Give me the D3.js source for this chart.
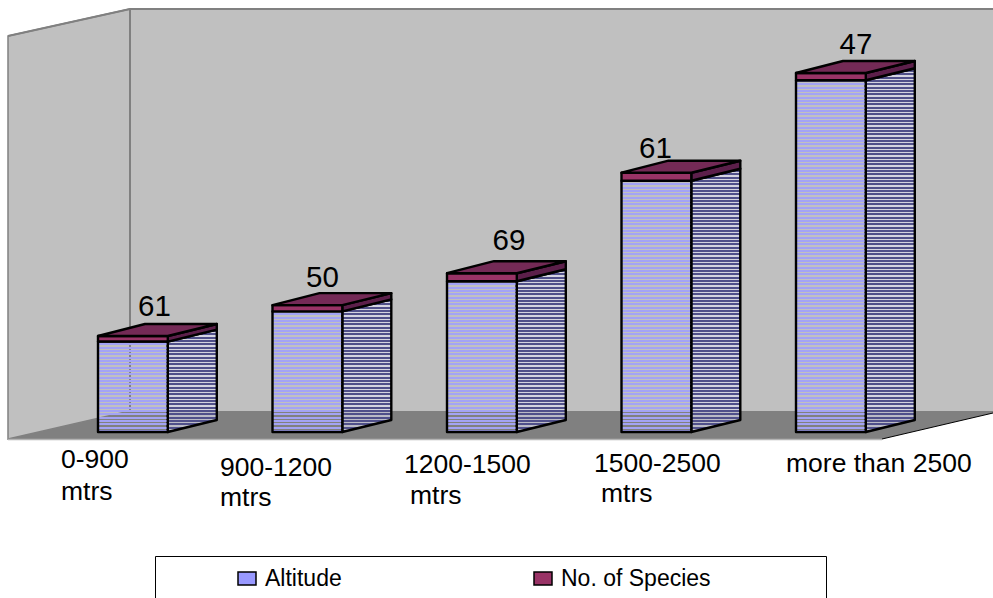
<!DOCTYPE html>
<html lang="en">
<head>
<meta charset="utf-8">
<title>Altitude and species</title>
<script src="https://cdn.jsdelivr.net/npm/d3@7"></script>
<style>
  html, body { margin: 0; background: #fff; }
  svg { display: block; }
  text { font-family: "Liberation Sans", Arial, sans-serif; fill: #000; }
</style>
</head>
<body>
<svg id="chart" width="993" height="598"></svg>
<script>
// values
var categories = ["0-900", "900-1200", "1200-1500", "1500-2500", "more than 2500"];
var categoryLines = [["0-900", "mtrs"], ["900-1200", "mtrs"], ["1200-1500", "mtrs"], ["1500-2500", "mtrs"], ["more than 2500"]];
var altitude = [900, 1200, 1500, 2500, 3500];
// the caps are not drawn to the printed labels in the original, so heights and labels are separate
var speciesHeight = [55, 62, 80, 80, 72];
var speciesLabels = [61, 50, 69, 61, 47];
var legendNames = ["Altitude", "No. of Species"];

var svg = d3.select("#chart");
var width = 993, height = 598;
var baseY = 432;
var depthX = 49, depthXLeft = 47, depthY = 12;

var x = d3.scaleBand().domain(categories).range([45.65, 918.15]).paddingInner(0.6).paddingOuter(0.3);
var y = d3.scaleLinear().domain([0, 4000]).range([baseY, 30]);

var rows = categories.map(function (c, i) {
  return { cat: c, altitude: altitude[i], species: speciesHeight[i] };
});
var stacked = d3.stack().keys(["altitude", "species"])(rows);

var line = d3.line();
var poly = function (pts) { return line(pts) + "Z"; };

// stripes, see-through like the original hatch. 3 lines in 10px keeps them crisp
var defs = svg.append("defs");
function stripes(id, bg, fg, h) {
  var p = defs.append("pattern").attr("id", id).attr("patternUnits", "userSpaceOnUse")
    .attr("width", 8).attr("height", 10);
  p.append("rect").attr("width", 8).attr("height", 10).attr("fill", bg);
  [0, 3, 7].forEach(function (s) {
    p.append("rect").attr("y", s).attr("width", 8).attr("height", h).attr("fill", fg);
  });
}
stripes("frontHatch", "rgba(190,190,200,0)", "#a3a3f5", 2);
stripes("sideHatch", "rgba(225,225,245,0.6)", "#50508a", 2);

// walls and floor
svg.append("path").attr("d", poly([[8, 36], [130, 9], [130, 411], [8, 439]]))
  .attr("fill", "#c0c0c0").attr("stroke", "#808080").attr("stroke-width", 1.5);
svg.append("path").attr("d", line([[130, 9], [130, 411], [993, 411], [993, 9]]))
  .attr("fill", "#c0c0c0");
svg.append("path").attr("d", line([[8, 36], [130, 9], [993, 9]]))
  .attr("fill", "none").attr("stroke", "#808080").attr("stroke-width", 2);
svg.append("path").attr("d", line([[130, 9], [130, 411]]))
  .attr("fill", "none").attr("stroke", "#808080").attr("stroke-width", 2);
svg.append("path").attr("d", poly([[8, 439], [130, 411], [993, 411], [993, 413], [882, 439]]))
  .attr("fill", "#808080");
svg.append("path").attr("d", line([[8, 439.5], [882, 439.5]]))
  .attr("fill", "none").attr("stroke", "#b4b4b4").attr("stroke-width", 1.5);
svg.append("path").attr("d", line([[882, 439], [993, 413]]))
  .attr("fill", "none").attr("stroke", "#000").attr("stroke-width", 1);

// bars
var faces = [
  { front: "url(#frontHatch)", side: "url(#sideHatch)" },
  { front: "#993366", side: "#5c1f4a", top: "#742a56" }
];
stacked.forEach(function (layer, k) {
  var g = svg.append("g").attr("stroke", "#000").attr("stroke-width", 2.4).attr("stroke-linejoin", "round");
  var bars = g.selectAll("g").data(layer).join("g");
  bars.append("path").attr("fill", faces[k].side).attr("d", function (d) {
    var x1 = x(d.data.cat) + x.bandwidth();
    return poly([[x1, y(d[0])], [x1 + depthX, y(d[0]) - depthY], [x1 + depthX, y(d[1]) - depthY], [x1, y(d[1])]]);
  });
  bars.append("rect").attr("fill", faces[k].front)
    .attr("x", function (d) { return x(d.data.cat); })
    .attr("width", x.bandwidth())
    .attr("y", function (d) { return y(d[1]); })
    .attr("height", function (d) { return y(d[0]) - y(d[1]); });
  if (k === 1) {
    bars.append("path").attr("fill", faces[k].top).attr("d", function (d) {
      var x0 = x(d.data.cat), x1 = x0 + x.bandwidth(), t = y(d[1]);
      return poly([[x0, t], [x0 + depthXLeft, t - depthY], [x1 + depthX, t - depthY], [x1, t]]);
    });
  }
});

// printed values above the bars, hand placed in the original
var valueNudgeX = [21.5, 15, 27, -1, 25];
var valueNudgeY = [20, 18, 23, 15, 19];
svg.append("g").selectAll("text").data(stacked[1]).join("text")
  .attr("x", function (d, i) { return x(d.data.cat) + x.bandwidth() / 2 + valueNudgeX[i]; })
  .attr("y", function (d, i) { return y(d[1]) - valueNudgeY[i]; })
  .attr("text-anchor", "middle").attr("font-size", 29.5)
  .text(function (d, i) { return speciesLabels[i]; });

// category labels are hand placed too
var tickLeft = [61, 220, 404, 594, 786];
var tickLeft2 = [61, 220, 410, 601, 786];
var tickBase = [468, 476, 473, 472, 472];
var tickBase2 = [500, 506, 504, 502, 0];
var ticks = svg.append("g").attr("font-size", 26.5);
categoryLines.forEach(function (ls, i) {
  ticks.append("text").attr("x", tickLeft[i]).attr("y", tickBase[i]).text(ls[0]);
  if (ls[1]) ticks.append("text").attr("x", tickLeft2[i]).attr("y", tickBase2[i]).text(ls[1]);
});

// legend, cut off by the bottom of the picture
svg.append("path").attr("d", line([[155.5, height], [155.5, 556.5], [826.5, 556.5], [826.5, height]]))
  .attr("fill", "none").attr("stroke", "#000").attr("stroke-width", 1);
var legendX = [237, 533];
var legendColors = ["#9999ff", "#993366"];
legendNames.forEach(function (n, i) {
  svg.append("rect").attr("x", legendX[i] + 1).attr("y", 572).attr("width", 18).attr("height", 13)
    .attr("fill", legendColors[i]).attr("stroke", "#000").attr("stroke-width", 1.5);
  svg.append("text").attr("x", legendX[i] + 28).attr("y", 586).attr("font-size", 23).text(n);
});
</script>
</body>
</html>
